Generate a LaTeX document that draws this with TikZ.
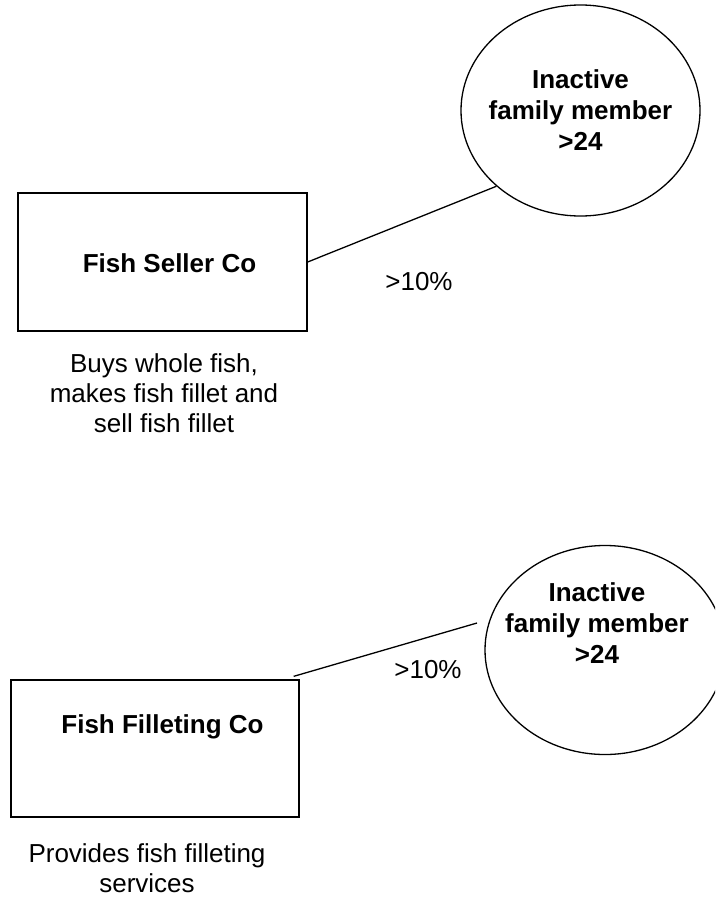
\documentclass[tikz,border=0pt]{standalone}
\usepackage{fontspec}
\setmainfont{Liberation Sans}
\usetikzlibrary{shapes.geometric,calc}
\begin{document}
\begin{tikzpicture}[x=1pt,y=-1pt,
  outline/.style={draw=black,line width=1.3pt},
  companybox/.style={outline,rectangle,inner sep=0pt},
  ownerring/.style={outline,ellipse,inner sep=0pt},
  titletext/.style={font=\fontsize{26}{31}\selectfont\bfseries,align=center,inner sep=0pt},
  plaintext/.style={font=\fontsize{26}{30}\selectfont,align=center,inner sep=0pt},
  link/.style={line width=1.3pt}]
\clip (0,0) rectangle (715,897);
\fill[white] (0,0) rectangle (715,897);

% upper group: the fish seller and its owner
\node[companybox,minimum width=289pt,minimum height=138pt] (sellerbox) at (162.5,262) {};
\node[titletext,anchor=base] (sellername) at (169.5,272) {Fish Seller Co};
\node[plaintext] (sellernote) at (164,393.5) {Buys whole fish,\\makes fish fillet and\\sell fish fillet};
\node[ownerring,minimum width=239pt,minimum height=211pt] (owner1) at (580.5,110.5) {};
\node[titletext] (owner1name) at (580.5,110.5) {Inactive\\family member\\>24};
\draw[link] (sellerbox.east) -- (owner1.222.5);
\node[plaintext,anchor=base] (share1) at (419,290) {>10\%};

% lower group: the filleting company and its owner
\node[companybox,minimum width=288pt,minimum height=137pt] (fillbox) at (155,748.5) {};
\node[titletext,anchor=base] (fillname) at (162.5,733) {Fish Filleting Co};
\node[plaintext] (fillnote) at (147,868.5) {Provides fish filleting\\services};
\node[ownerring,minimum width=240pt,minimum height=209pt] (owner2) at (605,650) {};
\node[titletext] (owner2name) at (597,623.5) {Inactive\\family member\\>24};
\coordinate (tail2) at ($(fillbox.north east)+(-6,-3)$);
\coordinate (tip2) at (477,623);
\draw[link] (tail2) -- (tip2);
\node[plaintext,anchor=base] (share2) at (428,678) {>10\%};
\end{tikzpicture}
\end{document}
